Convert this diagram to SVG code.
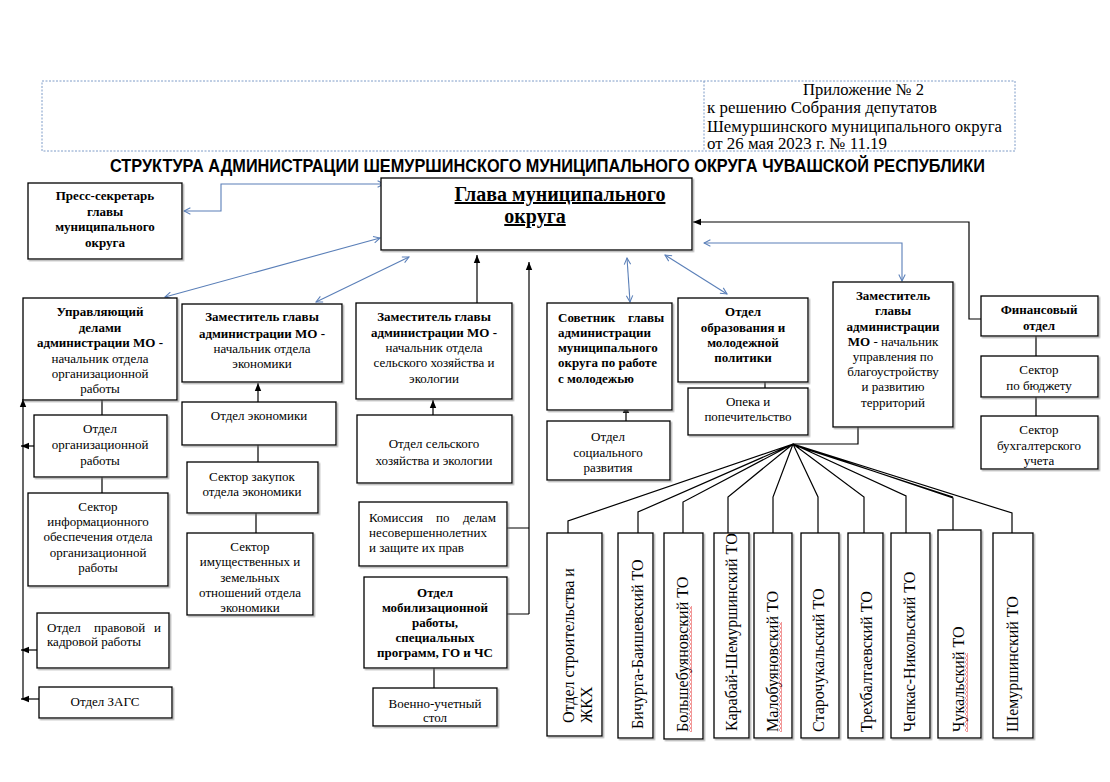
<svg xmlns="http://www.w3.org/2000/svg" width="1110" height="782" viewBox="0 0 1110 782">
<defs>
<style>
.bx{fill:#fff;stroke:#000;stroke-width:1.3;filter:url(#sh)}
.t{font-family:"Liberation Serif","Times New Roman",serif;font-size:13px;text-anchor:middle;fill:#000}
.b{font-weight:bold}
.s{text-anchor:start}
.g{font-size:20px;text-decoration:underline}
.v{font-family:"Liberation Serif","Times New Roman",serif;font-size:16px;fill:#000}
.h{font-family:"Liberation Serif","Times New Roman",serif;font-size:16.5px;fill:#000}
.bl{fill:none;stroke:#5a7fb8;stroke-width:1.1;marker-start:url(#ab);marker-end:url(#ab)}
.k{fill:none;stroke:#000;stroke-width:1.2}
.ka{marker-end:url(#ak)}
.wv{fill:url(#wv)}
</style>
<filter id="sh" x="-10%" y="-10%" width="125%" height="125%">
<feDropShadow dx="1.5" dy="1.5" stdDeviation="0.6" flood-color="#777" flood-opacity="0.55"/>
</filter>
<marker id="ab" viewBox="0 0 10 10" refX="9" refY="5" markerWidth="8" markerHeight="8" markerUnits="userSpaceOnUse" orient="auto-start-reverse">
<path d="M1,1 L9,5 L1,9" fill="none" stroke="#5a7fb8" stroke-width="1.3"/>
</marker>
<marker id="ak" viewBox="0 0 10 10" refX="10" refY="5" markerWidth="8" markerHeight="8" markerUnits="userSpaceOnUse" orient="auto">
<path d="M0,1 L10,5 L0,9 z" fill="#000"/>
</marker>
<pattern id="wv" patternUnits="userSpaceOnUse" width="3" height="4">
<path d="M0.5,0 L2.5,2 L0.5,4" fill="none" stroke="#d00" stroke-width="0.8"/>
</pattern>
<clipPath id="cIm"><rect x="187" y="533" width="126" height="80"/></clipPath>
</defs>
<rect x="0" y="0" width="1110" height="782" fill="#fff"/>

<g id="header">
<rect x="42" y="81" width="973" height="70" fill="none" stroke="#7f9cc8" stroke-width="1" stroke-dasharray="2,1.5"/>
<line x1="704" y1="81" x2="704" y2="151" stroke="#7f9cc8" stroke-width="1" stroke-dasharray="2,1.5"/>
<text class="h" x="803" y="95" textLength="121" lengthAdjust="spacingAndGlyphs">Приложение № 2</text>
<text class="h" x="707" y="113" textLength="230" lengthAdjust="spacingAndGlyphs">к решению Собрания депутатов</text>
<text class="h" x="707" y="132" textLength="295" lengthAdjust="spacingAndGlyphs">Шемуршинского муниципального округа</text>
<text class="h" x="707" y="149" textLength="180" lengthAdjust="spacingAndGlyphs">от 26 мая 2023 г. № 11.19</text>
</g>
<text id="title" x="110" y="172" font-family="'Liberation Sans',Arial,sans-serif" font-weight="bold" font-size="18.5" textLength="875" lengthAdjust="spacingAndGlyphs">СТРУКТУРА АДМИНИСТРАЦИИ ШЕМУРШИНСКОГО МУНИЦИПАЛЬНОГО ОКРУГА ЧУВАШСКОЙ РЕСПУБЛИКИ</text>

<g id="connectors">
<path class="bl" d="M184,211 H221 V184 H384"/>
<path class="bl" d="M165,297 L380,238"/>
<path class="bl" d="M316,302 L409,257"/>
<path class="bl" d="M627,258 L630,302"/>
<path class="bl" d="M665,255 L727,294"/>
<path class="bl" d="M704,243 H902 V281"/>
<path class="k ka" d="M477,303 V255"/>
<path class="k ka" d="M529,614 V262"/>
<path class="k" d="M507,528 H529 M507,614 H529"/>
<path class="k ka" d="M981,319 H969 V222 H693"/>
<path class="k ka" d="M433,415 V400"/>
<path class="k ka" d="M258,402 V383"/>
<path class="k" d="M258,445 V462 M256,513 V533"/>
<path class="k" d="M102,400 V415 M102,477 V493"/>
<path class="k ka" d="M23,699 V399"/>
<path class="k ka" d="M34,446 H21"/>
<path class="k ka" d="M41,650 H21"/>
<path class="k ka" d="M39,699 H21"/>
<path class="k ka" d="M626,421 V405"/>
<path class="k ka" d="M765,388 V373"/>
<path class="k" d="M1036,336 V356 M1036,397 V416"/>
<path class="k" d="M434,668 V688"/>
<path class="k" d="M858,427 V444 H793"/>
<path class="k" d="M793,444 L568,521 V533 M793,444 L638,512 V533 M793,444 L683,502 V533 M793,444 L728,497 V533 M793,444 L773,497 V533 M793,444 L818,497 V533 M793,444 L864,497 V533 M793,444 L906,496 V533 M793,444 L953,498 V530 M793,445 L953,497 M793,444 L1012,513 V533"/>
</g>

<g id="n-glava">
<rect class="bx" x="381" y="178" width="311" height="72"/>
<text class="t b g" x="560" y="201">Глава муниципального</text>
<text class="t b g" x="535" y="223">округа</text>
</g>
<g id="n-press">
<rect class="bx" x="28" y="183" width="154" height="76"/>
<text class="t b" x="105" y="200">Пресс-секретарь</text>
<text class="t b" x="105" y="216">главы</text>
<text class="t b" x="105" y="231">муниципального</text>
<text class="t b" x="105" y="247">округа</text>
</g>
<g id="n-upr">
<rect class="bx" x="23" y="298" width="154" height="102"/>
<text class="t b" x="100" y="316">Управляющий</text>
<text class="t b" x="100" y="332">делами</text>
<text class="t b" x="100" y="347">администрации МО -</text>
<text class="t" x="100" y="363">начальник  отдела</text>
<text class="t" x="100" y="378">организационной</text>
<text class="t" x="100" y="393">работы</text>
</g>
<g id="n-zam-ek">
<rect class="bx" x="182" y="304" width="160" height="78"/>
<text class="t b" x="262" y="321">Заместитель главы</text>
<text class="t b" x="262" y="338">администрации МО -</text>
<text class="t" x="262" y="353">начальник отдела</text>
<text class="t" x="262" y="368">экономики</text>
</g>
<g id="n-zam-sh">
<rect class="bx" x="356" y="303" width="156" height="96"/>
<text class="t b" x="434" y="321">Заместитель главы</text>
<text class="t b" x="434" y="337">администрации МО -</text>
<text class="t" x="434" y="352">начальник отдела</text>
<text class="t" x="434" y="367">сельского хозяйства и</text>
<text class="t" x="434" y="383">экологии</text>
</g>
<g id="n-sovetnik">
<rect class="bx" x="547" y="303" width="125" height="107"/>
<text class="t b s" y="322"><tspan x="558">Советник</tspan><tspan x="628">главы</tspan></text>
<text class="t b s" x="558" y="337">администрации</text>
<text class="t b s" x="558" y="352">муниципального</text>
<text class="t b s" x="558" y="367">округа по работе</text>
<text class="t b s" x="558" y="383">с молодежью</text>
</g>
<g id="n-obr">
<rect class="bx" x="678" y="298" width="130" height="84"/>
<text class="t b" x="743" y="316">Отдел</text>
<text class="t b" x="743" y="332">образования и</text>
<text class="t b" x="743" y="347">молодежной</text>
<text class="t b" x="743" y="362">политики</text>
</g>
<g id="n-zam-bl">
<rect class="bx" x="833" y="282" width="120" height="145"/>
<text class="t b" x="893" y="300">Заместитель</text>
<text class="t b" x="893" y="315">главы</text>
<text class="t b" x="893" y="331">администрации</text>
<text class="t" x="893" y="346"><tspan font-weight="bold">МО</tspan> - начальник</text>
<text class="t" x="893" y="361">управления по</text>
<text class="t" x="893" y="376">благоустройству</text>
<text class="t" x="893" y="391">и развитию</text>
<text class="t" x="893" y="407">территорий</text>
</g>
<g id="n-fin">
<rect class="bx" x="981" y="296" width="117" height="40"/>
<text class="t b" x="1039" y="314">Финансовый</text>
<text class="t b" x="1039" y="330">отдел</text>
</g>
<g id="n-budget">
<rect class="bx" x="981" y="356" width="117" height="41"/>
<text class="t" x="1039" y="374">Сектор</text>
<text class="t" x="1039" y="390">по бюджету</text>
</g>
<g id="n-buh">
<rect class="bx" x="981" y="416" width="117" height="53"/>
<text class="t" x="1039" y="434">Сектор</text>
<text class="t" x="1039" y="450">бухгалтерского</text>
<text class="t" x="1039" y="465">учета</text>
</g>
<g id="n-otd-org">
<rect class="bx" x="34" y="415" width="133" height="62"/>
<text class="t" x="100" y="433">Отдел</text>
<text class="t" x="100" y="449">организационной</text>
<text class="t" x="100" y="465">работы</text>
</g>
<g id="n-sek-inf">
<rect class="bx" x="28" y="493" width="140" height="93"/>
<text class="t" x="98" y="511">Сектор</text>
<text class="t" x="98" y="526">информационного</text>
<text class="t" x="98" y="541">обеспечения отдела</text>
<text class="t" x="98" y="557">организационной</text>
<text class="t" x="98" y="572">работы</text>
</g>
<g id="n-pravo">
<rect class="bx" x="37" y="613" width="132" height="55"/>
<text class="t s" y="632"><tspan x="47">Отдел</tspan><tspan x="94">правовой</tspan><tspan x="154">и</tspan></text>
<text class="t s" x="47" y="646">кадровой работы</text>
</g>
<g id="n-zags">
<rect class="bx" x="39" y="687" width="133" height="31"/>
<text class="t" x="105" y="706">Отдел ЗАГС</text>
</g>
<g id="n-otd-ek">
<rect class="bx" x="182" y="402" width="154" height="43"/>
<text class="t" x="259" y="420">Отдел экономики</text>
</g>
<g id="n-zakup">
<rect class="bx" x="187" y="462" width="131" height="51"/>
<text class="t" x="252" y="481">Сектор закупок</text>
<text class="t" x="252" y="496">отдела экономики</text>
</g>
<g id="n-imush">
<rect class="bx" x="187" y="533" width="126" height="82"/>
<g clip-path="url(#cIm)">
<text class="t" x="250" y="551">Сектор</text>
<text class="t" x="250" y="566">имущественных и</text>
<text class="t" x="250" y="582">земельных</text>
<text class="t" x="250" y="597">отношений отдела</text>
<text class="t" x="250" y="612">экономики</text>
</g>
</g>
<g id="n-otd-sh">
<rect class="bx" x="357" y="415" width="155" height="68"/>
<text class="t" x="434" y="448">Отдел сельского</text>
<text class="t" x="434" y="465">хозяйства и экологии</text>
</g>
<g id="n-kom">
<rect class="bx" x="359" y="502" width="148" height="64"/>
<text class="t s" y="522"><tspan x="369">Комиссия</tspan><tspan x="436">по</tspan><tspan x="463">делам</tspan></text>
<text class="t s" x="369" y="537">несовершеннолетних</text>
<text class="t s" x="369" y="552">и защите их прав</text>
</g>
<g id="n-mob">
<rect class="bx" x="364" y="577" width="143" height="91"/>
<text class="t b" x="435" y="597">Отдел</text>
<text class="t b" x="435" y="612">мобилизационной</text>
<text class="t b" x="435" y="627">работы,</text>
<text class="t b" x="435" y="642">специальных</text>
<text class="t b" x="435" y="657">программ, ГО и ЧС</text>
</g>
<g id="n-voen">
<rect class="bx" x="373" y="688" width="124" height="38"/>
<text class="t" x="435" y="708">Военно-учетный</text>
<text class="t" x="435" y="722">стол</text>
</g>
<g id="n-soc">
<rect class="bx" x="547" y="421" width="123" height="59"/>
<text class="t" x="608" y="441">Отдел</text>
<text class="t" x="608" y="457">социального</text>
<text class="t" x="608" y="472">развития</text>
</g>
<g id="n-opeka">
<rect class="bx" x="688" y="388" width="120" height="47"/>
<text class="t" x="748" y="406">Опека и</text>
<text class="t" x="748" y="421">попечительство</text>
</g>

<g id="n-b1">
<rect class="bx" x="547" y="533" width="55" height="203"/>
<text class="v" transform="translate(574,723) rotate(-90)">Отдел строительства  и</text>
<text class="v" transform="translate(592,723) rotate(-90)">ЖКХ</text>
</g>
<g id="n-b2">
<rect class="bx" x="618" y="533" width="35" height="205"/>
<text class="v" transform="translate(643,729) rotate(-90)">Бичурга-Баишевский ТО</text>
</g>
<g id="n-b3">
<rect class="bx" x="664" y="533" width="39" height="206"/>
<text class="v" transform="translate(688,732) rotate(-90)">Большебуяновский  ТО</text>
<rect class="wv" x="689" y="606" width="3" height="126"/>
</g>
<g id="n-b4">
<rect class="bx" x="714" y="533" width="35" height="205"/>
<text class="v" transform="translate(737,731) rotate(-90)">Карабай-Шемуршинский ТО</text>
</g>
<g id="n-b5">
<rect class="bx" x="754" y="533" width="38" height="205"/>
<text class="v" transform="translate(778,732) rotate(-90)">Малобуяновский ТО</text>
<rect class="wv" x="779" y="622" width="3" height="110"/>
</g>
<g id="n-b6">
<rect class="bx" x="801" y="533" width="38" height="205"/>
<text class="v" transform="translate(824,732) rotate(-90)">Старочукальский ТО</text>
</g>
<g id="n-b7">
<rect class="bx" x="848" y="533" width="35" height="205"/>
<text class="v" transform="translate(872,732) rotate(-90)">Трехбалтаевский ТО</text>
</g>
<g id="n-b8">
<rect class="bx" x="891" y="533" width="39" height="205"/>
<text class="v" transform="translate(915,732) rotate(-90)">Чепкас-Никольский ТО</text>
</g>
<g id="n-b9">
<rect class="bx" x="938" y="530" width="43" height="208"/>
<text class="v" transform="translate(964,732) rotate(-90)">Чукальский ТО</text>
<rect class="wv" x="965" y="653" width="3" height="79"/>
</g>
<g id="n-b10">
<rect class="bx" x="993" y="533" width="40" height="205"/>
<text class="v" transform="translate(1018,732) rotate(-90)">Шемуршинский ТО</text>
</g>
</svg>
